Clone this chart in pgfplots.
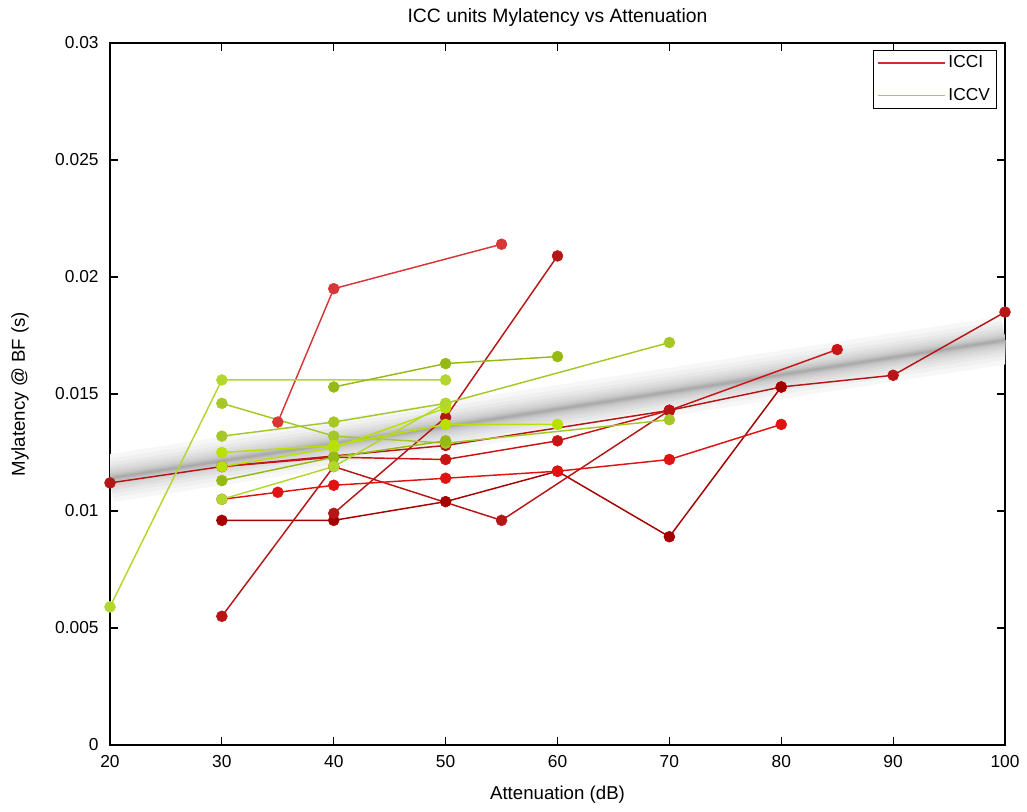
\documentclass[border=0pt]{standalone}
\usepackage{pgfplots}
\pgfplotsset{compat=1.18}
\usepackage{fontspec}
\setmainfont{Liberation Sans}
\definecolor{iccI}{RGB}{220,40,40}
\definecolor{iccV}{RGB}{168,204,40}
\definecolor{rA}{RGB}{215,55,55}
\definecolor{rB}{RGB}{200,20,20}
\definecolor{rC}{RGB}{182,22,22}
\definecolor{rD}{RGB}{165,0,0}
\definecolor{rE}{RGB}{225,18,18}
\definecolor{gA}{RGB}{185,225,0}
\definecolor{gB}{RGB}{165,200,40}
\definecolor{gC}{RGB}{150,185,20}
\definecolor{gD}{RGB}{180,215,45}
\pgfplotsset{
  ser/.style={color=#1, line width=1.1pt, mark=*, mark size=4.1pt,
    mark options={solid, fill=#1, draw=#1, line width=0.4pt}, forget plot},
  every axis title/.style={at={(axis description cs:0.5,1.0356)}, anchor=center},
}
\begin{document}
\begin{tikzpicture}
\begin{axis}[
  scale only axis,
  width=671.25pt, height=526.5pt,
  xmin=20, xmax=100, ymin=0, ymax=0.03,
  xtick={20,30,...,100},
  ytick={0,0.005,0.01,0.015,0.02,0.025,0.03},
  yticklabels={0,0.005,0.01,0.015,0.02,0.025,0.03},
  xticklabels={20,30,40,50,60,70,80,90,100},
  scaled y ticks=false,
  /pgf/number format/assume math mode=true,
  tick align=inside,
  major tick length=6pt,
  axis line style={line width=0.9pt},
  every tick/.style={black, line width=0.9pt},
  font=\fontsize{13pt}{15pt}\selectfont,
  ticklabel style={font=\fontsize{13pt}{15pt}\selectfont},
  yticklabel style={xshift=-5pt},
  xticklabel style={yshift=-4pt},
  title={ICC units Mylatency vs Attenuation},
  title style={font=\fontsize{14.5pt}{17pt}\selectfont},
  xlabel={Attenuation (dB)},
  xlabel style={at={(axis description cs:0.5,-0.0712)}, anchor=center, font=\fontsize{14pt}{17pt}\selectfont},
  ylabel={Mylatency @ BF (s)},
  ylabel style={at={(axis description cs:-0.1006,0.5)}, anchor=center, rotate=0, font=\fontsize{14pt}{17pt}\selectfont},
  legend style={at={(axis description cs:0.991,0.990)}, anchor=north east, draw=black, line width=0.6pt,
    font=\fontsize{13pt}{15pt}\selectfont, row sep=10pt},
  legend cell align=left,
  legend image code/.code={\draw[#1, line width=1.1pt] (0pt,0pt) -- (50pt,0pt);},
]
% regression band (solid grey layers)
\addplot[black!3, line width=36pt, forget plot] coordinates {(20,0.0114) (100,0.0173)};
\addplot[black!6, line width=29pt, forget plot] coordinates {(20,0.0114) (100,0.0173)};
\addplot[black!9, line width=23pt, forget plot] coordinates {(20,0.0114) (100,0.0173)};
\addplot[black!12, line width=18pt, forget plot] coordinates {(20,0.0114) (100,0.0173)};
\addplot[black!15, line width=14pt, forget plot] coordinates {(20,0.0114) (100,0.0173)};
\addplot[black!18, line width=10.5pt, forget plot] coordinates {(20,0.0114) (100,0.0173)};
\addplot[black!21, line width=7.5pt, forget plot] coordinates {(20,0.0114) (100,0.0173)};
\addplot[black!25, line width=5pt, forget plot] coordinates {(20,0.0114) (100,0.0173)};
\addplot[black!29, line width=3pt, forget plot] coordinates {(20,0.0114) (100,0.0173)};
\addplot[black!33, line width=1.5pt, forget plot] coordinates {(20,0.0114) (100,0.0173)};
% ICCI
\addplot[ser=rC] coordinates {(20,0.0112)(30,0.0119)(50,0.0128)(70,0.0143)(80,0.0153)(90,0.0158)(100,0.0185)};
\addplot[ser=rB] coordinates {(30,0.0119)(40,0.0123)(50,0.0122)(60,0.0130)(70,0.0143)(85,0.0169)};
\addplot[ser=rA] coordinates {(35,0.0138)(40,0.0195)(55,0.0214)};
\addplot[ser=rD] coordinates {(30,0.0096)(40,0.0096)(50,0.0104)(60,0.0117)(70,0.0089)(80,0.0153)};
\addplot[ser=rC] coordinates {(40,0.0099)(50,0.0140)(60,0.0209)};
\addplot[ser=rC] coordinates {(30,0.0055)(40,0.0119)(55,0.0096)(70,0.0143)};
\addplot[ser=rE] coordinates {(30,0.0105)(35,0.0108)(40,0.0111)(50,0.0114)(60,0.0117)(70,0.0122)(80,0.0137)};
% ICCV
\addplot[ser=gD] coordinates {(20,0.0059)(30,0.0156)(50,0.0156)};
\addplot[ser=gB] coordinates {(30,0.0146)(40,0.0132)(50,0.0129)(70,0.0139)};
\addplot[ser=gB] coordinates {(30,0.0132)(40,0.0138)(50,0.0146)(70,0.0172)};
\addplot[ser=gC] coordinates {(40,0.0153)(50,0.0163)(60,0.0166)};
\addplot[ser=gA] coordinates {(30,0.0125)(40,0.0128)(50,0.0137)(60,0.0137)};
\addplot[ser=gA] coordinates {(30,0.0119)(40,0.0127)(50,0.0144)};
\addplot[ser=gC] coordinates {(30,0.0113)(40,0.0123)(50,0.0130)};
\addplot[ser=gD] coordinates {(30,0.0105)(40,0.0119)(50,0.0146)};
\addlegendimage{iccI}
\addlegendentry{ICCI}
\addlegendimage{iccV}
\addlegendentry{ICCV}
\end{axis}
\pgfresetboundingbox
\path[use as bounding box] ([shift={(-82.5pt,-49.5pt)}]current axis.south west) rectangle ([shift={(16.5pt,32.25pt)}]current axis.north east);
\end{tikzpicture}
\end{document}
